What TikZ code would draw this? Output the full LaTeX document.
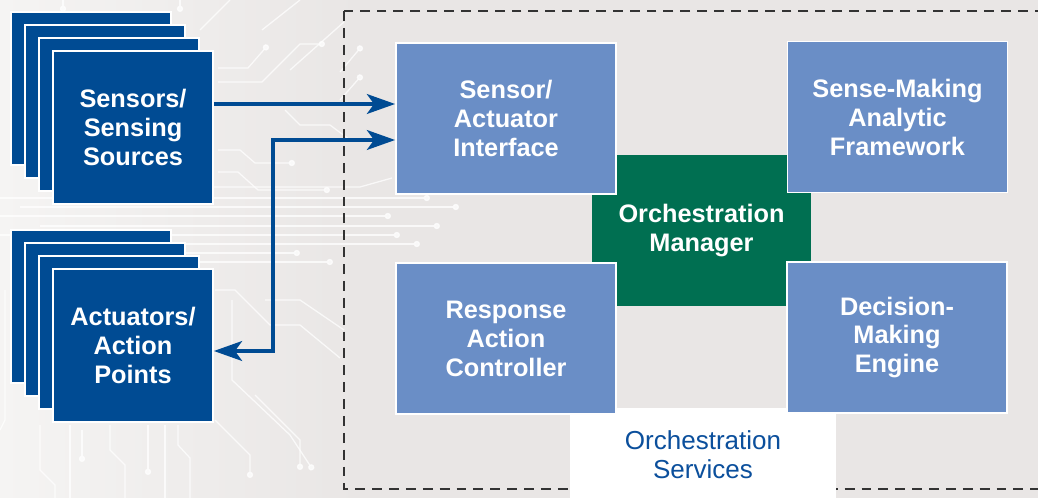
\documentclass[tikz,border=0pt]{standalone}
\usepackage{fontspec}
\setmainfont{Liberation Sans}
\usetikzlibrary{arrows.meta,positioning}

\definecolor{bgc}{HTML}{E9E6E5}
\definecolor{bgl}{HTML}{F5F4F3}
\definecolor{deepblue}{HTML}{004B93}
\definecolor{paleblue}{HTML}{6A8EC6}
\definecolor{orchgreen}{HTML}{006F51}
\definecolor{svcblue}{HTML}{0B4F9C}
\definecolor{framegrey}{HTML}{333333}

\tikzset{
  boxtext/.style={text=white, align=center, inner sep=0pt,
    font=\bfseries\fontsize{18}{20.6}\selectfont},
  srcbox/.style={boxtext, fill=deepblue, draw=white, line width=1.2pt,
    minimum width=4cm, minimum height=3.825cm},
  svcbox/.style={boxtext, fill=paleblue, draw=white, line width=1.2pt,
    minimum width=5.5cm, minimum height=3.775cm},
  mgrbox/.style={boxtext, fill=orchgreen, minimum width=5.475cm, minimum height=3.775cm},
  framebox/.style={draw=framegrey, line width=1.4pt, dash pattern=on 7pt off 5pt},
  flow/.style={deepblue, line width=2.8pt,
    >={Stealth[length=20pt, width=14pt, inset=5pt]}},
  trace/.style={white, opacity=.75, line width=.9pt},
  dottrace/.style={trace, -{Circle[length=4.5pt]}},
}

\begin{document}
\begin{tikzpicture}[x=0.025cm, y=-0.025cm]
  % Page and background
  \clip (0,0) rectangle (1038,498);
  \fill[bgc] (0,0) rectangle (1038,498);
  \shade[left color=bgl, right color=bgc] (0,0) rectangle (360,498);

  % Circuit traces behind the left part
  \draw[trace] (200,30) -- (230,0);
  \draw[trace] (262,30) -- (300,0);
  \draw[trace] (290,70) -- (344,22);
  \draw[dottrace] (218,68) -- (248,68) -- (268,45);
  \draw[dottrace] (218,82) -- (262,82) -- (300,44) -- (325,44);
  \draw[dottrace] (218,150) -- (240,150) -- (255,163) -- (295,163);
  \draw[dottrace] (218,172) -- (238,172) -- (258,190) -- (330,190);
  \draw[trace] (285,110) -- (300,125) -- (330,125) -- (350,140);
  \draw[dottrace] (340,72) -- (362,46);
  \draw[dottrace] (340,100) -- (362,75);
  \draw[trace] (200,187) -- (360,187) -- (392,178);
  \draw[dottrace] (0,198) -- (430,198);
  \draw[dottrace] (20,207) -- (459,207);
  \draw[dottrace] (0,216) -- (391,216);
  \draw[dottrace] (40,226) -- (440,226);
  \draw[dottrace] (0,235) -- (400,235);
  \draw[dottrace] (60,244) -- (420,244);
  \draw[dottrace] (10,253) -- (300,253);
  \draw[dottrace] (30,262) -- (333,262);
  \draw[trace] (215,290) -- (235,290) -- (270,325) -- (300,325) -- (340,358);
  \draw[dottrace] (232,300) -- (232,380) -- (290,435) -- (313,470);
  \draw[dottrace] (255,395) -- (300,440) -- (300,470);
  \draw[trace] (265,300) -- (300,300) -- (344,330);
  \draw[trace] (40,425) -- (40,470) -- (55,485) -- (55,498);
  \draw[trace] (70,425) -- (70,498);
  \draw[dottrace] (82,430) -- (82,462);
  \draw[trace] (110,425) -- (110,450) -- (125,465) -- (125,498);
  \draw[dottrace] (148,425) -- (148,475);
  \draw[trace] (165,425) -- (165,498);
  \draw[trace] (178,425) -- (178,445) -- (190,458) -- (190,498);
  \draw[dottrace] (215,420) -- (250,455) -- (250,478);
  \draw[trace] (5,290) -- (5,420) -- (0,430);
  \draw[dottrace] (63,0) -- (63,12);
  \draw[dottrace] (180,0) -- (180,12);

  % Dashed frame of the services
  \draw[framebox] (344,11) rectangle (1060,489);
  \node[fill=white, text=svcblue, align=center, inner sep=0pt,
    minimum width=6.65cm, minimum height=2.35cm,
    font=\fontsize{18.5}{20.6}\selectfont] (services) at (703,455) {Orchestration\\Services};

  % Sensor and actuator stacks
  \foreach \i in {3,2,1} {
    \node[srcbox] (sensors\i) at (133-14*\i,127.5-13*\i) {};
    \node[srcbox] (actuators\i) at (133-14*\i,345.5-13*\i) {};
  }
  \node[srcbox] (sensors) at (133,127.5) {Sensors/\\Sensing\\Sources};
  \node[srcbox] (actuators) at (133,345.5) {Actuators/\\Action\\Points};

  % Services around the manager
  \node[mgrbox] (manager) at (701.5,230.5) {Orchestration\\Manager};
  \node[svcbox] (iface) at (506,118.5) {Sensor/\\Actuator\\Interface};
  \node[svcbox] (sensemaking) at (897.5,117) {Sense-Making\\Analytic\\Framework};
  \node[svcbox] (response) at (506,338.5) {Response\\Action\\Controller};
  \node[svcbox] (decision) at (897,337.5) {Decision-\\Making\\Engine};

  % Data flows
  \draw[flow, ->] (sensors.east |- 0,104) -- (iface.west |- 0,104);
  \draw[flow, <->] (actuators.east |- 0,351) -| (273,140) -- (iface.west |- 0,140);
\end{tikzpicture}
\end{document}
